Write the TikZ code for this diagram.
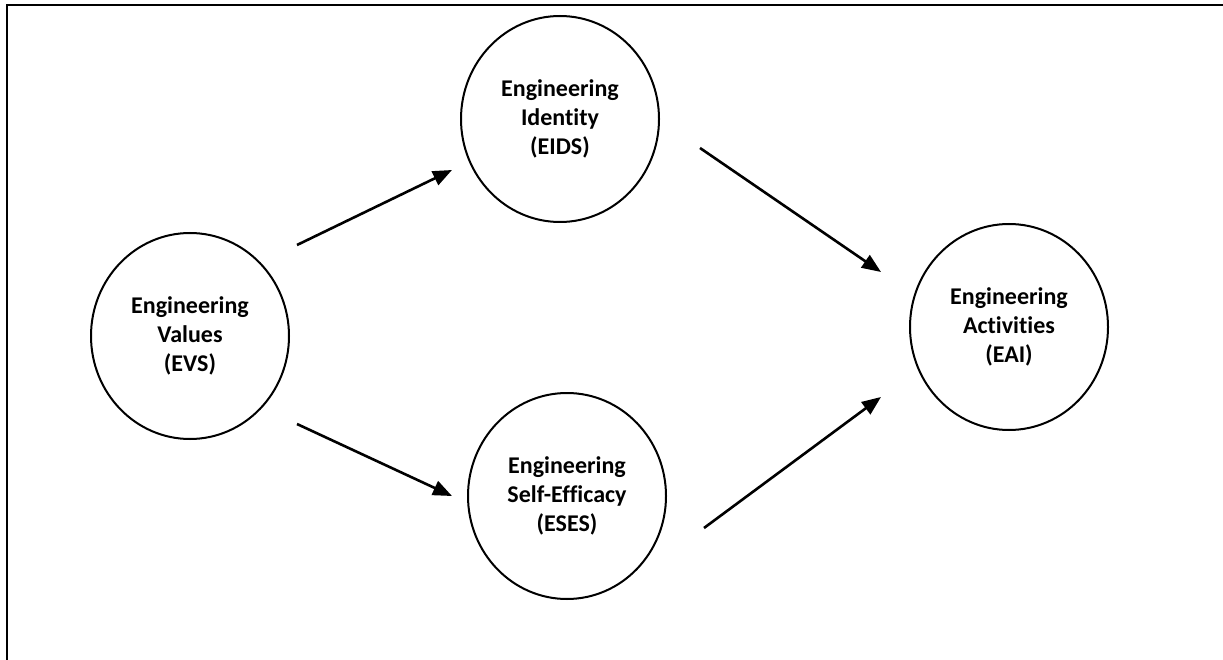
\documentclass[tikz,border=0pt]{standalone}
\usepackage{fontspec}
\setmainfont{Carlito}[Ligatures=CommonOff]
\usetikzlibrary{shapes.geometric,arrows.meta,calc}
\tikzset{
  construct/.style={ellipse, draw, line width=2pt, minimum width=198pt,
    minimum height=206pt, inner sep=0pt, align=center,
    font=\bfseries\fontsize{24}{29}\selectfont},
  path arrow/.style={line width=2.6pt, -{Triangle[length=19pt,width=15pt]}},
  frame/.style={line width=2.5pt}
}
\begin{document}
\begin{tikzpicture}[x=1pt, y=-1pt]
  \useasboundingbox (0,0) rectangle (1223,660);
  % open frame: top and left edges only
  \coordinate (frameTL) at (7,5);
  \coordinate (frameTR) at (1223,5);
  \coordinate (frameBL) at (7,660);
  \draw[frame] (frameBL) -- (frameTL) -- (frameTR);

  % constructs
  \node[construct] (evs)  at (190,336)  {Engineering\\Values\\(EVS)};
  \node[construct] (eids) at (560,119)  {Engineering\\Identity\\(EIDS)};
  \node[construct] (eses) at (567,496)  {Engineering\\Self-Efficacy\\(ESES)};
  \node[construct] (eai)  at (1009,327) {Engineering\\Activities\\(EAI)};

  % hypothesised paths
  \draw[path arrow] ($(evs)+(107,-91)$)  -- ($(eids)+(-108,51)$);
  \draw[path arrow] ($(evs)+(107,88)$)   -- ($(eses)+(-115,0)$);
  \draw[path arrow] ($(eids)+(140,29)$)  -- ($(eai)+(-128,-55)$);
  \draw[path arrow] ($(eses)+(137,32)$)  -- ($(eai)+(-128,70)$);
\end{tikzpicture}
\end{document}
